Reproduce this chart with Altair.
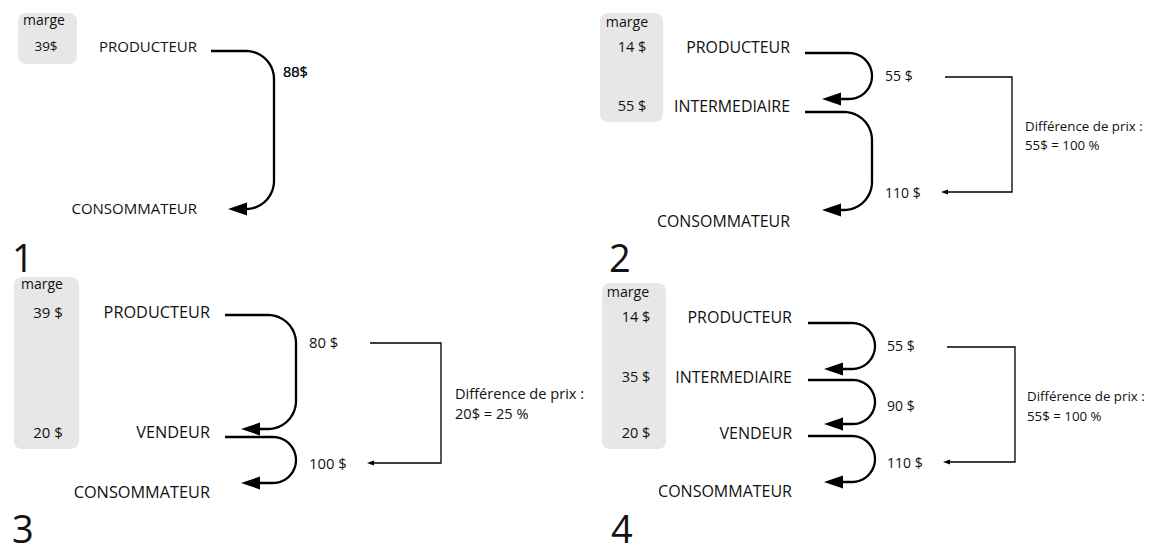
import altair as alt
import pandas as pd
import numpy as np

# ---------------- data ----------------
PANEL_IDS = ["1", "2", "3", "4"]
NODES = [
    ["PRODUCTEUR", "CONSOMMATEUR"],
    ["PRODUCTEUR", "INTERMEDIAIRE", "CONSOMMATEUR"],
    ["PRODUCTEUR", "VENDEUR", "CONSOMMATEUR"],
    ["PRODUCTEUR", "INTERMEDIAIRE", "VENDEUR", "CONSOMMATEUR"],
]
MARGIN_TITLE = "marge"
MARGINS = [["39$"], ["14 $", "55 $"], ["39 $", "20 $"], ["14 $", "35 $", "20 $"]]
PRICES = [["80$"], ["55 $", "110 $"], ["80 $", "100 $"], ["55 $", "90 $", "110 $"]]
PRICE_GHOST = ["88$", None, None, None]  # overprinted label in panel 1
DIFF_TITLE = "Différence de prix :"
DIFF_VALUES = [None, "55$ = 100 %", "20$ = 25 %", "55$ = 100 %"]

# ---------------- layout (pixel positions of the diagram) ----------------
LAYOUT = [
    dict(node_x=197, node_y=[47, 209], box=(18, 77, 13, 64), marge=(44, 21),
         margin_x=46, margin_y=[47], sx=211, arrows=[(51, 209)], vx=274, tip=228,
         price_x=283, price_y=[73], bracket=None, diff=None, num=(12, 272),
         fs=dict(node=15, marge=14, margin=13.5, price=14.5, diff=14)),
    dict(node_x=790, node_y=[48, 107, 222], box=(600, 663, 13, 122), marge=(627, 23),
         margin_x=632, margin_y=[48, 107], sx=805, arrows=[(53, 99), (112, 210)], vx=872, tip=822,
         price_x=885, price_y=[77, 194], bracket=(945, 1012, 77, 192, 941), diff=(1025, 127, 146),
         num=(609, 272), fs=dict(node=15.9, marge=14.2, margin=14.5, price=14, diff=13.3)),
    dict(node_x=210, node_y=[313, 433, 493], box=(14, 79, 277, 449), marge=(42, 285),
         margin_x=48, margin_y=[313, 433], sx=225, arrows=[(315, 429), (437, 483)], vx=296, tip=241,
         price_x=309, price_y=[344, 465], bracket=(370, 441, 343, 463, 367), diff=(455, 395, 415),
         num=(12, 543), fs=dict(node=16.3, marge=14, margin=15, price=14.8, diff=14.6)),
    dict(node_x=792, node_y=[318, 378, 434, 492], box=(602, 666, 283, 449), marge=(628, 293),
         margin_x=636, margin_y=[318, 378, 434], sx=808, arrows=[(323, 369), (380, 424), (436, 482)],
         vx=875, tip=824, price_x=887, price_y=[347, 407, 464], bracket=(947, 1015, 347, 462, 943),
         diff=(1027, 397, 417), num=(611, 543),
         fs=dict(node=16, marge=14.2, margin=14.5, price=14, diff=13.3)),
]

W, H = 1137, 539
HEAD = 9.5      # half length of big arrowheads
SHEAD = 3.5     # half length of small arrowheads
FONT = "Open Sans"

# ---------------- build tables ----------------
boxes, t_right, t_center, t_left, t_num = [], [], [], [], []
curve_pts, bracket_pts, heads, sheads = [], [], [], []

for p, L in enumerate(LAYOUT):
    fs = L["fs"]
    x0, x1, y0, y1 = L["box"]
    boxes.append(dict(x=x0, x2=x1, y=y0, y2=y1))
    for name, y in zip(NODES[p], L["node_y"]):
        t_right.append(dict(x=L["node_x"], y=y, text=name, fs=fs["node"]))
    t_center.append(dict(x=L["marge"][0], y=L["marge"][1], text=MARGIN_TITLE, fs=fs["marge"]))
    for m, y in zip(MARGINS[p], L["margin_y"]):
        t_center.append(dict(x=L["margin_x"], y=y, text=m, fs=fs["margin"]))
    for pr, y in zip(PRICES[p], L["price_y"]):
        t_left.append(dict(x=L["price_x"], y=y, text=pr, fs=fs["price"]))
    if PRICE_GHOST[p]:
        t_left.append(dict(x=L["price_x"], y=L["price_y"][0], text=PRICE_GHOST[p], fs=fs["price"]))
    if DIFF_VALUES[p]:
        dx, dy1, dy2 = L["diff"]
        t_left.append(dict(x=dx, y=dy1, text=DIFF_TITLE, fs=fs["diff"]))
        t_left.append(dict(x=dx, y=dy2, text=DIFF_VALUES[p], fs=fs["diff"]))
    t_num.append(dict(x=L["num"][0], y=L["num"][1], text=PANEL_IDS[p], fs=38))

    # curved arrows between successive nodes
    vx, sx, tip = L["vx"], L["sx"], L["tip"]
    for a, (sy, ey) in enumerate(L["arrows"]):
        r = min(28.0, (ey - sy) / 2.0)
        pts = [(sx, sy), (vx - r, sy)]
        cx, cy = vx - r, sy + r
        for t in np.linspace(0, np.pi / 2, 16)[1:]:
            pts.append((cx + r * np.sin(t), cy - r * np.cos(t)))
        cx, cy = vx - r, ey - r
        for t in np.linspace(0, np.pi / 2, 16):
            pts.append((cx + r * np.cos(t), cy + r * np.sin(t)))
        pts.append((tip + HEAD * 1.6, ey))
        for i, (x, y) in enumerate(pts):
            curve_pts.append(dict(pid=f"{p}-{a}", i=i, x=x, y=y))
        heads.append(dict(x=tip + HEAD, y=ey))

    if L["bracket"]:
        bl, br, bt, bb, btip = L["bracket"]
        pts = [(bl, bt), (br, bt), (br, bb), (btip + SHEAD, bb)]
        for i, (x, y) in enumerate(pts):
            bracket_pts.append(dict(pid=f"b{p}", i=i, x=x, y=y))
        sheads.append(dict(x=btip + SHEAD, y=bb))

xs = alt.Scale(domain=[8, 8 + W], nice=False, zero=False)
ys = alt.Scale(domain=[8, 8 + H], nice=False, zero=False, reverse=True)
X = alt.X("x:Q", scale=xs, axis=None)
Y = alt.Y("y:Q", scale=ys, axis=None)

box_layer = alt.Chart(pd.DataFrame(boxes)).mark_rect(
    cornerRadius=8, color="#e7e7e7").encode(x=X, x2="x2:Q", y=Y, y2="y2:Q")

curve_layer = alt.Chart(pd.DataFrame(curve_pts)).mark_line(
    color="black", strokeWidth=2.3, strokeJoin="round").encode(
    x=X, y=Y, detail="pid:N", order="i:Q")

bracket_layer = alt.Chart(pd.DataFrame(bracket_pts)).mark_line(
    color="black", strokeWidth=1.3).encode(x=X, y=Y, detail="pid:N", order="i:Q")

head_layer = alt.Chart(pd.DataFrame(heads)).mark_point(
    shape="M-1,0L1,-0.68L1,0.68Z", filled=True, color="black", opacity=1,
    size=(2 * HEAD) ** 2, strokeWidth=0).encode(x=X, y=Y)

shead_layer = alt.Chart(pd.DataFrame(sheads)).mark_point(
    shape="M-1,0L1,-0.7L1,0.7Z", filled=True, color="black", opacity=1,
    size=(2 * SHEAD) ** 2, strokeWidth=0).encode(x=X, y=Y)


def text_layer(rows, align, baseline="middle"):
    return alt.Chart(pd.DataFrame(rows)).mark_text(
        align=align, baseline=baseline, font=FONT, color="#111").encode(
        x=X, y=Y, text="text:N", size=alt.Size("fs:Q", scale=None))


chart = alt.layer(
    box_layer, curve_layer, bracket_layer, head_layer, shead_layer,
    text_layer(t_right, "right"), text_layer(t_center, "center"),
    text_layer(t_left, "left"), text_layer(t_num, "left", "alphabetic"),
).properties(width=W, height=H, padding=0, autosize="none").configure_view(stroke=None)

chart.save("out.html", embed_options={"renderer": "svg", "actions": False})
